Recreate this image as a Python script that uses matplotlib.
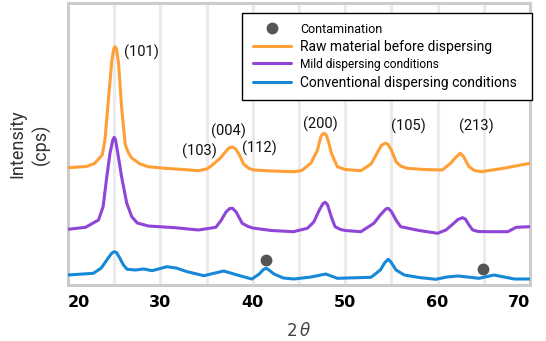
import matplotlib
matplotlib.use("Agg")
import matplotlib.pyplot as plt

# 2-theta positions and stacked intensities (arbitrary units, already offset)
raw_x = [20, 22.0, 22.9, 23.7, 24.0, 24.4, 24.75, 24.95, 25.1, 25.25, 25.47, 25.8, 26.2, 26.55,
         26.9, 27.8, 28.7, 30.5, 32.5, 34.1, 35.0, 35.5, 36.5, 37.2, 37.5, 37.8, 38.1, 38.5,
         39.0, 39.6, 40.1, 42, 44.5, 45.3, 46.3, 47.0, 47.35, 47.55, 47.75, 47.95, 48.2, 48.5,
         49.15, 50.0, 51.7, 52.8, 53.4, 53.9, 54.3, 54.6, 55.0, 55.5, 56.0, 56.7, 58.5, 60.5,
         61.4, 62.0, 62.45, 62.8, 63.4, 64.0, 64.7, 67, 70]
raw_y = [117.3, 118.5, 121.7, 130, 145, 188.3, 225, 236, 238.3, 236, 222, 178, 140, 132,
         127, 121, 118.3, 116.7, 115.5, 114.3, 116, 119, 127, 135, 137.5, 138, 136.5, 131,
         121, 116.5, 115, 114, 113.3, 114.5, 122, 135, 148, 151, 151.7, 150, 143, 132,
         118.3, 115.5, 114.3, 121, 131, 139.5, 141.7, 141, 135, 123.3, 119, 116.7, 115.5, 115,
         121.7, 128, 131.7, 128.5, 118.3, 114.5, 113.3, 116.5, 121.7]

mild_x = [20, 21.9, 23.3, 23.8, 24.2, 24.55, 24.85, 25.0, 25.15, 25.45, 25.8, 26.35, 26.9, 27.5,
          28.7, 31.6, 34.1, 36.0, 36.6, 37.1, 37.5, 37.8, 38.2, 38.85, 39.5, 40, 42, 44.4,
          45.9, 46.6, 47.2, 47.6, 47.85, 48.1, 48.5, 48.9, 49.5, 50, 51.7, 53.1, 53.8, 54.4,
          54.65, 55.0, 55.5, 56.0, 58, 60.0, 60.9, 61.6, 62.2, 62.7, 63.0, 63.4, 63.8, 64.4,
          65.5, 67.6, 68.5, 70]
mild_y = [55.7, 57.7, 65, 78.3, 108.3, 132, 145, 147.7, 145, 128.3, 108.3, 82, 68.3, 62,
          59, 57.3, 55, 57.7, 65, 73, 76.5, 76.7, 73, 61.7, 58.5, 57, 54.5, 53.3,
          56.7, 63, 75, 81.5, 82.7, 80, 68, 58.3, 55.5, 54.5, 53.3, 61.7, 70, 76,
          76.7, 73.5, 65, 58.3, 54.5, 51.7, 55, 60.5, 65.5, 67.3, 66, 60, 55, 53.5,
          53.3, 53.3, 57.7, 58.3]

conv_x = [20, 22.75, 23.6, 24.2, 24.7, 25.0, 25.25, 25.6, 26.0, 26.4, 27.3, 28.2, 29.1, 30.7,
          31.7, 32.9, 34.7, 36.85, 38.5, 39.9, 40.7, 41.15, 41.45, 41.75, 42.3, 43.3, 44.45,
          46.3, 47.9, 49.15, 52.8, 53.8, 54.3, 54.65, 54.95, 55.5, 56.4, 58, 59.8, 61, 62.2,
          64.5, 66.1, 67.2, 68.3, 70]
conv_y = [10, 11.7, 17, 25, 31.5, 33.3, 32.5, 27, 20, 15.7, 15, 16, 14.3, 18.3,
          17, 13.3, 9.3, 14, 9.5, 6, 11, 15.5, 16.7, 15, 11, 7, 6,
          8, 11, 6.7, 7.7, 15, 22.5, 25.7, 23, 15, 10, 7.5, 5.7, 8, 9,
          6.7, 10, 8, 6, 6]

contam_x = [41.4, 64.9]
contam_y = [25, 16.3]

peak_labels = ["(101)", "(004)", "(103)", "(112)", "(200)", "(105)", "(213)"]
peak_x = [28.0, 37.4, 34.25, 40.7, 47.35, 56.8, 64.25]
peak_y = [232.3, 153.3, 134, 136.7, 161, 158.3, 158.3]

xticks = [20, 30, 40, 50, 60, 70]

plt.rcParams["font.family"] = ["Roboto", "DejaVu Sans"]

fig = plt.figure(figsize=(5.46, 3.41), dpi=100)
ax = fig.add_axes([68 / 546, 56 / 341, 462 / 546, 282 / 341])

line_kw = dict(lw=2.2, solid_joinstyle="round", solid_capstyle="round", zorder=3)
ax.plot(contam_x, contam_y, "o", color="#555555", ms=7.5, label="Contamination", zorder=4)
ax.plot(raw_x, raw_y, color="#ff9f36", label="Raw material before dispersing", **line_kw)
ax.plot(mild_x, mild_y, color="#8f45d8", label="Mild dispersing conditions", **line_kw)
ax.plot(conv_x, conv_y, color="#1688d6", label="Conventional dispersing conditions", **line_kw)

for lab, px, py in zip(peak_labels, peak_x, peak_y):
    ax.text(px, py, lab, ha="center", va="center", fontsize=10.5, color="#111111", zorder=5)

ax.set_xlim(20, 70)
ax.set_ylim(0, 282)
ax.set_yticks([])
ax.set_xticks(xticks)
ax.set_xticks(range(25, 70, 5), minor=True)
ax.grid(True, axis="x", which="both", color="#ebebeb", lw=2.2)
ax.set_axisbelow(True)
ax.tick_params(axis="x", which="both", length=0, pad=7)
labels = ax.set_xticklabels([str(t) for t in xticks], fontsize=11.5, fontweight="bold",
                            family=["DejaVu Sans"])
labels[0].set_ha("left")
labels[-1].set_ha("right")
for s in ax.spines.values():
    s.set_color("#cccccc")
    s.set_linewidth(2.2)

ax.set_xlabel(r"$2\,\theta$", fontsize=12, color="#444444", labelpad=8)
ax.set_ylabel("Intensity\n(cps)", fontsize=13, color="#333333", labelpad=12,
              linespacing=1.4)

leg = ax.legend(loc="upper left", bbox_to_anchor=(0.377, 0.966, 0.627, 0.0), mode="expand",
                fontsize=10, frameon=True, fancybox=False, edgecolor="black", framealpha=1,
                borderaxespad=0, borderpad=0.75, handlelength=2.8, handletextpad=0.6,
                labelspacing=0.3)
leg.get_frame().set_linewidth(1.0)
leg.set_zorder(6)
texts = leg.get_texts()
texts[0].set_fontsize(9)
texts[2].set_fontsize(8.6)

fig.savefig("out.png", dpi=100)
